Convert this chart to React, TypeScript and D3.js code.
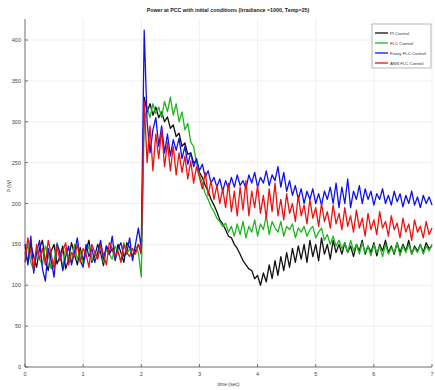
import React from "react";
import * as d3 from "d3";

const title = "Power at PCC with initial conditions (Irradiance =1000, Temp=25)";
const xLabel = "time (sec)";
const yLabel = "P (W)";
const xTicks = [0, 1, 2, 3, 4, 5, 6, 7];
const yTicks = [0, 50, 100, 150, 200, 250, 300, 350, 400];
const dt = 0.05;
const seriesNames = ["PI Control", "FLC Control", "Fuzzy FLC Control", "ANN FLC Control"];
const seriesColors = ["#111111", "#1fb51f", "#1010ee", "#ee1111"];

const blackPre = [140,128,150,135,122,145,155,130,118,142,150,126,135,148,120,132,152,138,125,146,130,142,155,128,136,150,140,124,148,138,145,132,150,140,128,152,146,135,142,150,138];
const blackPost = [330,312,322,308,318,305,312,300,306,292,296,282,286,270,274,260,262,250,252,238,232,222,215,205,198,190,180,175,168,160,158,150,145,138,130,125,120,118,108,112,100,115,104,125,108,130,112,135,118,140,122,145,128,148,132,150,128,155,135,150,130,158,138,150,132,155,140,150,138,152,140,148,135,150,142,155,138,148,140,152,136,150,142,155,140,148,138,152,140,150,142,155,138,148,142,150,140,152,145,148];

const greenPre = [135,150,128,118,142,132,125,148,138,120,130,152,140,122,145,135,128,150,132,142,125,138,148,130,140,135,150,128,145,138,132,148,140,130,152,138,145,135,148,140,110];
const greenPost = [300,318,305,322,310,318,305,325,312,330,308,322,300,312,290,298,275,270,250,235,225,212,205,196,190,182,178,172,176,165,172,160,175,162,178,158,172,165,180,160,175,168,185,162,178,170,165,178,160,172,168,175,158,170,165,172,160,168,172,158,165,170,155,162,150,160,148,155,145,152,140,155,142,150,138,152,140,148,136,150,140,148,135,150,138,146,140,152,136,148,140,150,138,146,140,150,138,148,142,150];

const bluePre = [150,125,160,115,140,155,120,105,145,130,110,150,140,118,135,148,125,140,158,130,122,150,135,145,128,140,155,132,148,138,160,130,145,152,135,140,158,130,150,170,145];
const bluePost = [412,300,262,290,305,270,295,262,285,258,278,265,280,255,270,248,262,245,255,240,248,232,240,225,232,220,230,215,228,218,232,220,235,222,228,218,235,225,238,220,232,225,240,222,235,228,245,220,238,215,228,210,222,205,218,200,215,205,218,200,212,198,215,205,220,200,225,195,220,200,230,195,215,205,222,200,218,205,215,198,212,205,218,200,210,198,215,202,212,196,210,200,215,198,208,195,210,200,208,198];

const redPre = [128,158,140,120,150,132,145,125,155,138,120,148,130,142,152,125,140,135,150,128,145,138,122,150,140,132,148,138,125,152,145,135,142,128,150,140,135,145,138,150,140];
const redPost = [325,250,295,240,285,255,290,245,275,240,270,235,262,238,258,230,252,225,245,232,218,238,210,228,205,222,200,218,195,225,190,215,185,220,192,228,185,215,195,222,188,210,182,218,190,225,185,205,180,212,188,200,178,210,185,198,175,205,182,195,172,200,178,190,170,198,175,188,168,195,172,185,165,192,170,182,160,188,168,180,162,190,170,178,160,185,168,176,158,182,165,175,155,180,165,172,158,178,162,170];

const series = [
  blackPre.concat(blackPost),
  greenPre.concat(greenPost),
  bluePre.concat(bluePost),
  redPre.concat(redPost),
];

export default function App() {
  const W = 435, H = 390;
  const left = 25, right = 432, bottom = 367, top = 19;
  const x = d3.scaleLinear().domain([0, 7]).range([left, right]);
  const y = d3.scaleLinear().domain([0, 400]).range([bottom, 40]);
  const line = d3.line<number>().x((_, i) => x(i * dt)).y((v) => y(v));
  const font = "Liberation Sans, Arial, sans-serif";
  return (
    <svg width={W} height={H} style={{ position: "absolute", left: 0, top: 0, background: "#fff" }} fontFamily={font}>
      <rect x={0} y={0} width={W} height={H} fill="#fff" />
      {yTicks.map((t) => (
        <line key={"gy" + t} x1={left} x2={right} y1={y(t)} y2={y(t)} stroke="#ececec" strokeWidth={0.8} />
      ))}
      {xTicks.map((t) => (
        <line key={"gx" + t} x1={x(t)} x2={x(t)} y1={top} y2={bottom} stroke="#ececec" strokeWidth={0.8} />
      ))}
      <line x1={left} x2={left} y1={top} y2={bottom} stroke="#555" strokeWidth={0.8} />
      <line x1={left} x2={right} y1={bottom} y2={bottom} stroke="#555" strokeWidth={0.8} />
      {yTicks.map((t) => (
        <g key={"ty" + t}>
          <line x1={left} x2={left + 3} y1={y(t)} y2={y(t)} stroke="#555" strokeWidth={0.8} />
          <text x={left - 4} y={y(t) + 2} fontSize={5.5} textAnchor="end" fill="#444">{t}</text>
        </g>
      ))}
      {xTicks.map((t) => (
        <g key={"tx" + t}>
          <line x1={x(t)} x2={x(t)} y1={bottom} y2={bottom - 3} stroke="#555" strokeWidth={0.8} />
          <text x={x(t)} y={bottom + 9} fontSize={5.5} textAnchor="middle" fill="#444">{t}</text>
        </g>
      ))}
      <text x={(left + right) / 2} y={386} fontSize={5} textAnchor="middle" fill="#444">{xLabel}</text>
      <text transform={`translate(11,${186}) rotate(-90)`} fontSize={5} textAnchor="middle" fill="#444">{yLabel}</text>
      <text x={228} y={12} fontSize={5.3} textAnchor="middle" fill="#222" fontWeight="bold">{title}</text>
      {series.map((s, k) => (
        <path key={"s" + k} d={line(s) || ""} fill="none" stroke={seriesColors[k]} strokeWidth={1.3} strokeLinejoin="round" />
      ))}
      <g>
        <rect x={372} y={24} width={59} height={44} fill="#fff" stroke="#888" strokeWidth={0.6} />
        {seriesNames.map((n, k) => (
          <g key={"lg" + k}>
          <line x1={375} x2={388} y1={33 + k * 10} y2={33 + k * 10} stroke={seriesColors[k]} strokeWidth={1.3} />
          <text x={390} y={34.5 + k * 10} fontSize={4.3} fill="#333">{n}</text>
          </g>
        ))}
      </g>
    </svg>
  );
}
